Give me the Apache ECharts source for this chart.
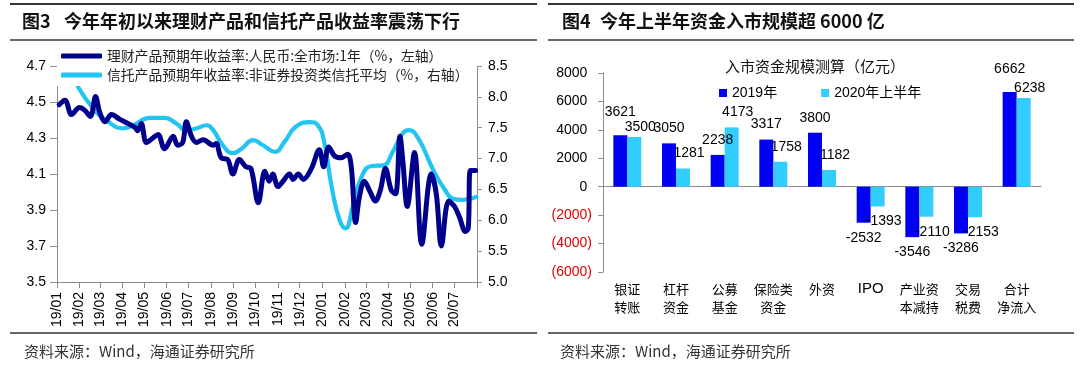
<!DOCTYPE html>
<html>
<head>
<meta charset="utf-8">
<script src="https://cdn.jsdelivr.net/npm/echarts@6/dist/echarts.min.js"></script>
<style>
html,body{margin:0;padding:0;background:#fff;}
#chart{width:1080px;height:365px;}
</style>
</head>
<body>
<div id="chart"></div>
<script>
// ---------- Figure 3 data ----------
const wealthName = '理财产品预期年收益率:人民币:全市场:1年（%，左轴）';
const trustName = '信托产品预期年收益率:非证券投资类信托平均（%，右轴）';
const wealthDates = ['2019-01-04','2019-01-12','2019-01-21','2019-02-01','2019-02-08','2019-02-16','2019-02-23','2019-03-01','2019-03-08','2019-03-17','2019-03-28','2019-04-09','2019-04-18','2019-04-22','2019-04-27','2019-05-04','2019-05-13','2019-05-20','2019-05-29','2019-06-10','2019-06-16','2019-06-23','2019-06-28','2019-07-05','2019-07-12','2019-07-21','2019-08-04','2019-08-08','2019-08-15','2019-08-24','2019-08-31','2019-09-09','2019-09-18','2019-09-25','2019-10-05','2019-10-14','2019-10-20','2019-10-25','2019-11-01','2019-11-08','2019-11-17','2019-11-22','2019-11-29','2019-12-06','2019-12-17','2019-12-28','2020-01-03','2020-01-10','2020-01-18','2020-01-27','2020-02-05','2020-02-10','2020-02-16','2020-02-21','2020-02-28','2020-03-07','2020-03-14','2020-03-21','2020-03-28','2020-04-05','2020-04-11','2020-04-17','2020-04-21','2020-04-27','2020-05-07','2020-05-17','2020-05-30','2020-06-06','2020-06-13','2020-06-23','2020-07-01','2020-07-08','2020-07-16','2020-07-20','2020-07-23','2020-07-30'];
const wealthValues = [4.485,4.51,4.43,4.47,4.455,4.42,4.53,4.44,4.39,4.43,4.405,4.38,4.36,4.34,4.38,4.275,4.30,4.32,4.24,4.31,4.26,4.275,4.39,4.31,4.275,4.29,4.26,4.27,4.19,4.18,4.10,4.18,4.14,4.13,3.94,4.115,4.06,4.10,4.03,4.06,4.10,4.07,4.10,4.07,4.13,4.235,4.14,4.25,4.20,4.19,4.21,4.14,3.83,3.97,4.06,4.00,3.95,4.01,4.13,4.01,3.99,4.31,4.17,3.92,4.22,3.71,4.10,3.99,3.70,3.95,3.92,3.86,3.78,3.80,4.12,4.12];
const trustDates = ['2019-01-30','2019-02-20','2019-03-12','2019-04-02','2019-04-16','2019-05-09','2019-05-29','2019-06-14','2019-06-28','2019-07-12','2019-07-26','2019-08-04','2019-08-17','2019-08-31','2019-09-12','2019-09-28','2019-10-11','2019-10-28','2019-11-10','2019-11-26','2019-12-15','2019-12-26','2020-01-04','2020-01-14','2020-01-25','2020-02-02','2020-02-12','2020-02-24','2020-03-09','2020-03-25','2020-04-07','2020-04-21','2020-04-29','2020-05-12','2020-06-02','2020-06-18','2020-06-29','2020-07-13','2020-07-31'];
const trustValues = [8.16,7.81,7.60,7.49,7.54,7.66,7.66,7.57,7.46,7.49,7.54,7.46,7.22,7.09,7.16,7.30,7.22,7.11,7.27,7.52,7.59,7.54,7.25,6.54,6.00,5.87,6.22,6.70,6.88,6.89,7.11,7.41,7.46,7.33,6.81,6.49,6.35,6.33,6.38];
const leftTicks = [3.5,3.7,3.9,4.1,4.3,4.5,4.7];
const axisStart = '2019-01-01';
const axisEnd = '2020-08-01';

// ---------- Figure 4 data ----------
const flowCategories = ['银证\n转账','杠杆\n资金','公募\n基金','保险类\n资金','外资','IPO','产业资\n本减持','交易\n税费','合计\n净流入'];
const flow2019Name = '2019年';
const flow2020Name = '2020年上半年';
const flow2019 = [3621,3050,2238,3317,3800,-2532,-3546,-3286,6662];
const flow2020 = [3500,1281,4173,1758,1182,-1393,-2110,-2153,6238];

const latin = 'Liberation Sans, Arial, Noto Sans CJK SC, sans-serif';
const cjk = 'Noto Sans CJK SC, sans-serif';
const DAY = 24 * 3600 * 1000;

function pairs(d, v) { return d.map((x, i) => [x, v[i]]); }
// labels: light-series labels sit a little to the right; close pairs are spread apart vertically
function barItems(arr, other, isLight) {
  return arr.map((v, i) => {
    const close = Math.sign(v) === Math.sign(other[i]) && Math.abs(v - other[i]) < 700;
    const dir = v < 0 ? -1 : 1;
    const dy = close ? (isLight ? 5 : -8) * dir : 0;
    return { value: v, label: { position: v < 0 ? 'bottom' : 'top', offset: [isLight ? 6 : 0, dy] } };
  });
}
function pad2(n) { return (n < 10 ? '0' : '') + n; }
const endTime = new Date(axisEnd.replace(/-/g, '/')).getTime();
function monthLabel(value) {
  if (value >= endTime - DAY) return '';
  const d = new Date(value);
  return String(d.getFullYear()).slice(2) + '/' + pad2(d.getMonth() + 1);
}

const chart = echarts.init(document.getElementById('chart'), null, { renderer: 'canvas' });
const axisGrey = '#8c8c8c';

const option = {
  animation: false,
  backgroundColor: '#fff',
  grid: [
    { left: 57, top: 66, width: 420, height: 216 },
    { left: 603, top: 73, width: 438, height: 199 }
  ],
  legend: [
    {
      data: [wealthName, trustName],
      orient: 'vertical', left: 57, top: 45,
      itemWidth: 41, itemHeight: 5, itemGap: 3,
      icon: 'roundRect',
      padding: [3, 8, 3, 4],
      backgroundColor: '#fff',
      z: 10,
      textStyle: { fontFamily: cjk, fontSize: 13.8, color: '#222', lineHeight: 16 }
    },
    {
      data: [flow2019Name, flow2020Name],
      left: 714, top: 81,
      itemWidth: 8, itemHeight: 8, itemGap: 44,
      icon: 'rect',
      textStyle: { fontFamily: latin, fontSize: 14, color: '#000' }
    }
  ],
  xAxis: [
    {
      type: 'time', gridIndex: 0,
      min: axisStart, max: axisEnd,
      minInterval: 30 * DAY, maxInterval: 30 * DAY,
      axisLine: { lineStyle: { color: axisGrey } },
      axisTick: { length: 6, lineStyle: { color: axisGrey } },
      splitLine: { show: false },
      axisLabel: {
        rotate: 90, margin: 10, formatter: monthLabel,
        fontFamily: latin, fontSize: 14, color: '#000'
      }
    },
    {
      type: 'category', gridIndex: 1, data: flowCategories,
      axisLine: { onZero: true, lineStyle: { color: axisGrey } },
      axisTick: { length: 4, lineStyle: { color: axisGrey } },
      axisLabel: { show: false }
    },
    {
      type: 'category', gridIndex: 1, data: flowCategories, position: 'bottom',
      axisLine: { show: false, onZero: false },
      axisTick: { show: false },
      axisLabel: {
        interval: 0, margin: 8, fontFamily: cjk, fontSize: 13, lineHeight: 18, color: '#000',
        formatter: v => /^[A-Za-z]+$/.test(v) ? '{en|' + v + '}' : v,
        rich: { en: { fontFamily: latin, fontSize: 15, color: '#000', lineHeight: 18 } }
      }
    }
  ],
  yAxis: [
    {
      type: 'value', gridIndex: 0, position: 'left', min: 3.5, max: 4.7,
      axisLine: { show: true, lineStyle: { color: axisGrey } },
      axisTick: { show: true, length: 7, customValues: leftTicks, lineStyle: { color: axisGrey } },
      splitLine: { show: false },
      axisLabel: {
        customValues: leftTicks, margin: 11,
        formatter: v => v.toFixed(1),
        fontFamily: latin, fontSize: 14, color: '#000'
      }
    },
    {
      type: 'value', gridIndex: 0, position: 'right', min: 5, max: 8.5, interval: 0.5,
      axisLine: { show: true, lineStyle: { color: axisGrey } },
      axisTick: { show: true, length: 5, lineStyle: { color: axisGrey } },
      splitLine: { show: false },
      axisLabel: {
        margin: 11, formatter: v => v.toFixed(1),
        fontFamily: latin, fontSize: 14, color: '#000'
      }
    },
    {
      type: 'value', gridIndex: 1, min: -6000, max: 8000, interval: 2000,
      axisLine: { show: true, lineStyle: { color: axisGrey } },
      axisTick: { show: true, length: 5, lineStyle: { color: axisGrey } },
      splitLine: { show: false },
      axisLabel: {
        margin: 11,
        formatter: v => v < 0 ? '{neg|(' + (-v) + ')}' : '{pos|' + v + '}{pad|)}',
        rich: {
          pos: { color: '#000', fontFamily: latin, fontSize: 14 },
          neg: { color: '#e00000', fontFamily: latin, fontSize: 14 },
          pad: { color: 'rgba(0,0,0,0)', fontFamily: latin, fontSize: 14 }
        }
      }
    }
  ],
  series: [
    {
      name: wealthName, type: 'line', xAxisIndex: 0, yAxisIndex: 0,
      data: pairs(wealthDates, wealthValues),
      showSymbol: false, smooth: 0.35,
      lineStyle: { color: '#00008c', width: 5, cap: 'round', join: 'round' },
      itemStyle: { color: '#00008c' }, z: 3
    },
    {
      name: trustName, type: 'line', xAxisIndex: 0, yAxisIndex: 1,
      data: pairs(trustDates, trustValues),
      showSymbol: false, smooth: 0.5,
      lineStyle: { color: '#22c4f2', width: 4.2, cap: 'round', join: 'round' },
      itemStyle: { color: '#22c4f2' }, z: 2
    },
    {
      name: flow2019Name, type: 'bar', xAxisIndex: 1, yAxisIndex: 2,
      data: barItems(flow2019, flow2020, false), barWidth: 14, barGap: '0%',
      itemStyle: { color: '#0000f2' },
      label: { show: true, distance: 8, fontFamily: latin, fontSize: 14, color: '#000' }
    },
    {
      name: flow2020Name, type: 'bar', xAxisIndex: 1, yAxisIndex: 2,
      data: barItems(flow2020, flow2019, true), barWidth: 14, barGap: '0%',
      itemStyle: { color: '#33ccff' },
      label: { show: true, distance: 8, fontFamily: latin, fontSize: 14, color: '#000' }
    }
  ],
  graphic: [
    // panel rules
    { type: 'line', shape: { x1: 10, y1: 4, x2: 537, y2: 4 }, style: { stroke: '#333', lineWidth: 2 } },
    { type: 'line', shape: { x1: 10, y1: 40, x2: 537, y2: 40 }, style: { stroke: '#333', lineWidth: 1.5 } },
    { type: 'line', shape: { x1: 10, y1: 333, x2: 537, y2: 333 }, style: { stroke: '#333', lineWidth: 1.5 } },
    { type: 'line', shape: { x1: 548, y1: 4, x2: 1074, y2: 4 }, style: { stroke: '#333', lineWidth: 2 } },
    { type: 'line', shape: { x1: 548, y1: 40, x2: 1074, y2: 40 }, style: { stroke: '#333', lineWidth: 1.5 } },
    { type: 'line', shape: { x1: 548, y1: 333, x2: 1074, y2: 333 }, style: { stroke: '#333', lineWidth: 1.5 } },
    // titles
    { type: 'text', left: 22, top: 12, style: { text: '图3', font: 'bold 18px ' + cjk, fill: '#111' } },
    { type: 'text', left: 64, top: 12, style: { text: '今年年初以来理财产品和信托产品收益率震荡下行', font: 'bold 18px ' + cjk, fill: '#111' } },
    { type: 'text', left: 562, top: 12, style: { text: '图4', font: 'bold 18px ' + cjk, fill: '#111' } },
    { type: 'text', left: 600, top: 12, style: { text: '今年上半年资金入市规模超 6000 亿', font: 'bold 18px ' + cjk, fill: '#111' } },
    // chart subtitle
    { type: 'text', x: 815, y: 66, style: { text: '入市资金规模测算（亿元）', font: '15px ' + cjk, fill: '#111', align: 'center', verticalAlign: 'middle' } },
    // sources
    { type: 'text', x: 24, y: 351, style: { text: '资料来源：Wind，海通证券研究所', font: '15px ' + cjk, fill: '#333', verticalAlign: 'middle' } },
    { type: 'text', x: 560, y: 351, style: { text: '资料来源：Wind，海通证券研究所', font: '15px ' + cjk, fill: '#333', verticalAlign: 'middle' } }
  ]
};
chart.setOption(option);
</script>
</body>
</html>
